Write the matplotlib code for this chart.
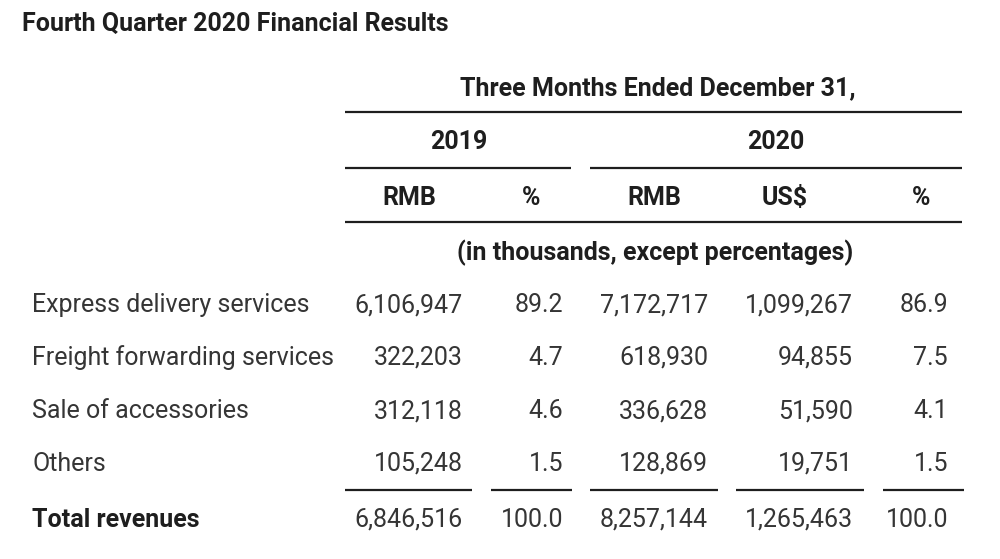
import matplotlib
matplotlib.use("Agg")
from matplotlib import pyplot as plt

plt.rcParams['font.family'] = ['Roboto', 'DejaVu Sans']

title = 'Fourth Quarter 2020 Financial Results'
period = 'Three Months Ended December 31,'
years = ['2019', '2020']
col_heads = ['RMB', '%', 'RMB', 'US$', '%']
units = '(in thousands, except percentages)'

rows = ['Express delivery services', 'Freight forwarding services',
        'Sale of accessories', 'Others']
rmb_2019 = ['6,106,947', '322,203', '312,118', '105,248']
pct_2019 = ['89.2', '4.7', '4.6', '1.5']
rmb_2020 = ['7,172,717', '618,930', '336,628', '128,869']
usd_2020 = ['1,099,267', '94,855', '51,590', '19,751']
pct_2020 = ['86.9', '7.5', '4.1', '1.5']

total_label = 'Total revenues'
totals = ['6,846,516', '100.0', '8,257,144', '1,265,463', '100.0']

# layout in pixel coords
W, H = 1000, 559
fig = plt.figure(figsize=(W / 100, H / 100), dpi=100)
ax = fig.add_axes([0, 0, 1, 1])
ax.set_xlim(0, W)
ax.set_ylim(H, 0)
ax.axis('off')

ink = '#1e1e1e'
body = '#353535'
lw = 1.6
hs = 18      # header font size
bs = 18      # body font size
va = 'baseline'
dy = 9       # baseline below visual centre

col_right = [463, 563, 708, 853, 948]
head_x = [409, 531, 654, 785, 921]
row_y = [303, 356, 409, 462]
total_y = 518
tbl_l, tbl_r = 345, 962

ax.text(22, 22 + dy, title, fontsize=18, fontweight='bold', color=ink, va=va, ha='left')

ax.text(658, 86 + dy, period, fontsize=hs, fontweight='bold', color=ink, va=va, ha='center')
ax.plot([tbl_l, tbl_r], [112, 112], color=ink, lw=lw, solid_capstyle='butt')

ax.text(459, 140 + dy, years[0], fontsize=hs, fontweight='bold', color=ink, va=va, ha='center')
ax.text(776, 140 + dy, years[1], fontsize=hs, fontweight='bold', color=ink, va=va, ha='center')
ax.plot([tbl_l, 571], [168, 168], color=ink, lw=lw, solid_capstyle='butt')
ax.plot([590, tbl_r], [168, 168], color=ink, lw=lw, solid_capstyle='butt')

for x, h in zip(head_x, col_heads):
    ax.text(x, 196 + dy, h, fontsize=hs, fontweight='bold', color=ink, va=va, ha='center')
ax.plot([tbl_l, tbl_r], [222, 222], color=ink, lw=lw, solid_capstyle='butt')

ax.text(655, 251 + dy, units, fontsize=hs, fontweight='bold', color=ink, va=va, ha='center')

cols = [rmb_2019, pct_2019, rmb_2020, usd_2020, pct_2020]
for i, (label, y) in enumerate(zip(rows, row_y)):
    ax.text(32, y + dy, label, fontsize=bs, color=body, va=va, ha='left')
    for x, col in zip(col_right, cols):
        ax.text(x, y + dy, col[i], fontsize=bs, color=body, va=va, ha='right')

segs = [(345, 472), (491, 572), (590, 718), (736, 864), (883, 964)]
for a, b in segs:
    ax.plot([a, b], [490, 490], color=ink, lw=lw, solid_capstyle='butt')

ax.text(32, total_y + dy, total_label, fontsize=bs, fontweight='bold', color=ink, va=va, ha='left')
for x, v in zip(col_right, totals):
    ax.text(x, total_y + dy, v, fontsize=bs, color=body, va=va, ha='right')

fig.savefig('out.png', dpi=100, facecolor='white')
